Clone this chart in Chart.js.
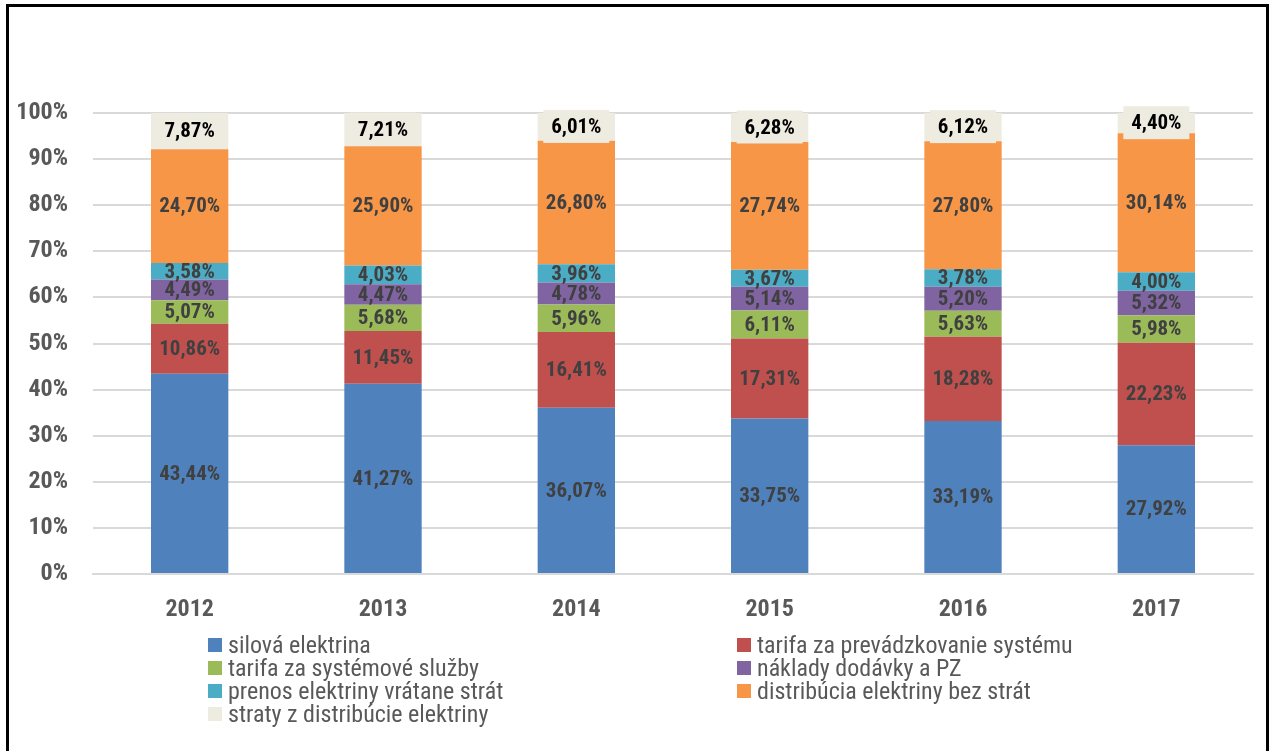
<!DOCTYPE html>
<html>
<head>
<meta charset="utf-8">
<script src="https://cdn.jsdelivr.net/npm/chart.js@4"></script>
<style>
  html, body { margin: 0; padding: 0; background: #fff; }
  body { width: 1274px; height: 751px; position: relative; overflow: hidden; }
  #frame { position: absolute; left: 6px; top: 4px; width: 1263px; height: 760px; border: 3px solid #000; box-sizing: border-box; }
  #wrap { position: absolute; left: 0; top: 0; width: 1274px; height: 640px; }
  #legend { position: absolute; left: 208px; top: 633px; width: 1000px;
    display: grid; grid-template-columns: 529px 500px; row-gap: 0;
    font-family: "Liberation Sans Narrow", "Arial Narrow", "Roboto Condensed", sans-serif;
    font-size: 24px; color: #595959; }
  .lg-item { display: flex; align-items: center; height: 23px; white-space: nowrap; }
  .lg-box { width: 14px; height: 14px; margin-right: 6px; flex: none; }
</style>
</head>
<body>
<div id="wrap"><canvas id="chart" width="1274" height="640"></canvas></div>
<div id="legend"></div>
<div id="frame"></div>
<script>
const YEARS = ["2012", "2013", "2014", "2015", "2016", "2017"];

const SERIES_NAMES = [
  "silová elektrina",
  "tarifa za prevádzkovanie systému",
  "tarifa za systémové služby",
  "náklady dodávky a PZ",
  "prenos elektriny vrátane strát",
  "distribúcia elektriny bez strát",
  "straty z distribúcie elektriny"
];

const SILOVA      = [43.44, 41.27, 36.07, 33.75, 33.19, 27.92];
const TPS         = [10.86, 11.45, 16.41, 17.31, 18.28, 22.23];
const TSS         = [5.07, 5.68, 5.96, 6.11, 5.63, 5.98];
const NAKLADY     = [4.49, 4.47, 4.78, 5.14, 5.20, 5.32];
const PRENOS      = [3.58, 4.03, 3.96, 3.67, 3.78, 4.00];
const DISTRIBUCIA = [24.70, 25.90, 26.80, 27.74, 27.80, 30.14];
const STRATY      = [7.87, 7.21, 6.01, 6.28, 6.12, 4.40];

const Y_TICKS = [0, 10, 20, 30, 40, 50, 60, 70, 80, 90, 100];

const COLORS = ["#4F81BD", "#C0504D", "#9BBB59", "#8064A2", "#4BACC6", "#F79646", "#EEECE1"];
const FONT = '"Liberation Sans Narrow", "Arial Narrow", "Roboto Condensed", sans-serif';

const values = [SILOVA, TPS, TSS, NAKLADY, PRENOS, DISTRIBUCIA, STRATY];

const fmt = v => v.toFixed(2).replace(".", ",") + "%";

// draws the value in the middle of each segment; last series gets a beige box
const segmentLabels = {
  id: "segmentLabels",
  afterDatasetsDraw(chart) {
    const ctx = chart.ctx;
    ctx.save();
    ctx.font = "bold 21px " + FONT;
    ctx.textAlign = "center";
    ctx.textBaseline = "middle";
    chart.data.datasets.forEach((ds, di) => {
      const meta = chart.getDatasetMeta(di);
      meta.data.forEach((bar, i) => {
        const y = (bar.y + bar.base) / 2;
        if (di === values.length - 1) {
          ctx.fillStyle = COLORS[di];
          ctx.fillRect(bar.x - 33, y - 17, 66, 33);
          ctx.fillStyle = "#000";
        } else {
          ctx.fillStyle = "#404040";
        }
        ctx.fillText(fmt(ds.data[i]), bar.x, y + 1);
      });
    });
    ctx.restore();
  }
};

new Chart(document.getElementById("chart"), {
  type: "bar",
  data: {
    labels: YEARS,
    datasets: values.map((data, i) => ({
      label: SERIES_NAMES[i],
      data,
      backgroundColor: COLORS[i],
      borderWidth: 0,
      categoryPercentage: 1,
      barPercentage: 0.4
    }))
  },
  options: {
    responsive: false,
    animation: false,
    layout: { padding: { top: 113, right: 21, left: 0, bottom: 0 } },
    plugins: { legend: { display: false }, tooltip: { enabled: false } },
    scales: {
      x: {
        stacked: true,
        grid: { display: false },
        border: { color: "#d9d9d9", width: 2 },
        ticks: { color: "#595959", font: { family: FONT, size: 24, weight: "bold" }, padding: 14 },
        afterFit(s) { s.height = 66; }
      },
      y: {
        stacked: true,
        min: 0, max: 100,
        afterBuildTicks(s) { s.ticks = Y_TICKS.map(v => ({ value: v })); },
        grid: { color: "#d9d9d9", lineWidth: 2, drawTicks: false },
        border: { display: false },
        ticks: { color: "#595959", font: { family: FONT, size: 24, weight: "bold" }, padding: 25,
                 callback: v => v + "%" },
        afterFit(s) { s.width = 93; }
      }
    }
  },
  plugins: [segmentLabels]
});

document.getElementById("legend").innerHTML = SERIES_NAMES.map((name, i) =>
  `<div class="lg-item"><span class="lg-box" style="background:${COLORS[i]}"></span>${name}</div>`
).join("");
</script>
</body>
</html>
